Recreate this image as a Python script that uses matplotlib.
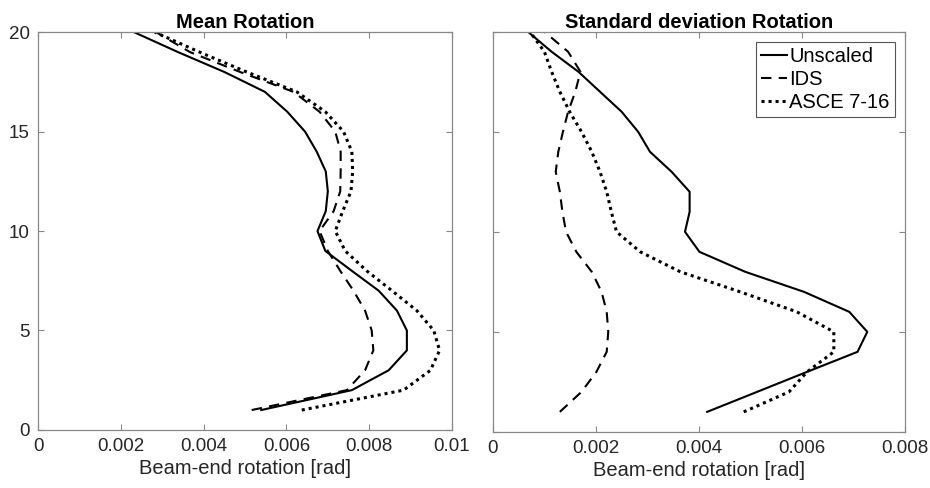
import matplotlib.pyplot as plt

plt.rcParams['font.family'] = ['Liberation Sans', 'DejaVu Sans']

floors = list(range(1, 21))

# mean beam-end rotation [rad] per floor (floor 1 .. 20)
mean_unscaled = [0.00539, 0.00758, 0.00847, 0.00891, 0.00891, 0.00867, 0.00823, 0.00758, 0.00694, 0.00675,
                 0.00695, 0.00700, 0.00695, 0.00673, 0.00645, 0.00602, 0.00548, 0.00450, 0.00338, 0.00232]
mean_ids = [0.00516, 0.00746, 0.00790, 0.00810, 0.00806, 0.00790, 0.00762, 0.00730, 0.00700, 0.00680,
            0.00714, 0.00730, 0.00731, 0.00731, 0.00718, 0.00680, 0.00617, 0.00488, 0.00367, 0.00285]
mean_asce = [0.00637, 0.00883, 0.00948, 0.00970, 0.00956, 0.00915, 0.00855, 0.00794, 0.00742, 0.00718,
             0.00736, 0.00756, 0.00760, 0.00758, 0.00738, 0.00694, 0.00625, 0.00504, 0.00390, 0.00282]

# standard deviation of beam-end rotation [rad]
std_unscaled = [0.00416, 0.00513, 0.00610, 0.00708, 0.00727, 0.00692, 0.00604, 0.00490, 0.00401, 0.00373,
                0.00382, 0.00382, 0.00347, 0.00305, 0.00282, 0.00250, 0.00208, 0.00166, 0.00114, 0.00068]
std_ids = [0.00130, 0.00172, 0.00201, 0.00221, 0.00224, 0.00221, 0.00211, 0.00192, 0.00162, 0.00142,
           0.00135, 0.00130, 0.00122, 0.00127, 0.00136, 0.00146, 0.00160, 0.00170, 0.00146, 0.00100]
std_asce = [0.00487, 0.00575, 0.00610, 0.00662, 0.00662, 0.00590, 0.00480, 0.00364, 0.00286, 0.00240,
            0.00230, 0.00221, 0.00208, 0.00192, 0.00172, 0.00149, 0.00130, 0.00114, 0.00100, 0.00072]

labels = ['Unscaled', 'IDS', 'ASCE 7-16']
styles = ['-', (0, (5, 3.5)), (0, (1, 1.3))]

fig = plt.figure(figsize=(9.3, 4.88), dpi=100)
ax1 = fig.add_axes([0.041, 0.119, 0.445, 0.815])
ax2 = fig.add_axes([0.530, 0.115, 0.443, 0.82])

for ax, data, title, xmax, xticks in [
        (ax1, [mean_unscaled, mean_ids, mean_asce], 'Mean Rotation', 0.01,
         [0, 0.002, 0.004, 0.006, 0.008, 0.01]),
        (ax2, [std_unscaled, std_ids, std_asce], 'Standard deviation Rotation', 0.008,
         [0, 0.002, 0.004, 0.006, 0.008])]:
    for vals, ls, lab in zip(data, styles, labels):
        lw = 2.2 if lab == 'ASCE 7-16' else 1.5
        ax.plot(vals, floors, color='black', linestyle=ls, linewidth=lw, label=lab)
    ax.set_xlim(0, xmax)
    ax.set_ylim(0, 20)
    ax.set_xticks(xticks)
    ax.set_xticklabels(['0' if t == 0 else ('%g' % t) for t in xticks])
    ax.set_yticks([0, 5, 10, 15, 20])
    ax.set_title(title, fontsize=14.5, fontweight='bold', pad=3)
    ax.set_xlabel('Beam-end rotation [rad]', fontsize=14.5, color='#262626', labelpad=3)
    ax.tick_params(direction='in', top=True, right=True, labelsize=13.5, colors='#262626',
                   length=4, width=0.8, pad=6)
    ax.tick_params(color='#888888')
    for sp in ax.spines.values():
        sp.set_color('#888888')
        sp.set_linewidth(0.9)

ax2.set_yticklabels([])

leg = ax2.legend(loc='upper right', fontsize=14.5, handlelength=1.3, handletextpad=0.1,
                 borderpad=0.25, labelspacing=0.2, fancybox=False, framealpha=1,
                 borderaxespad=0.5)
leg.get_frame().set_edgecolor('#555555')
leg.get_frame().set_linewidth(0.8)

fig.savefig('out.png', dpi=100)
